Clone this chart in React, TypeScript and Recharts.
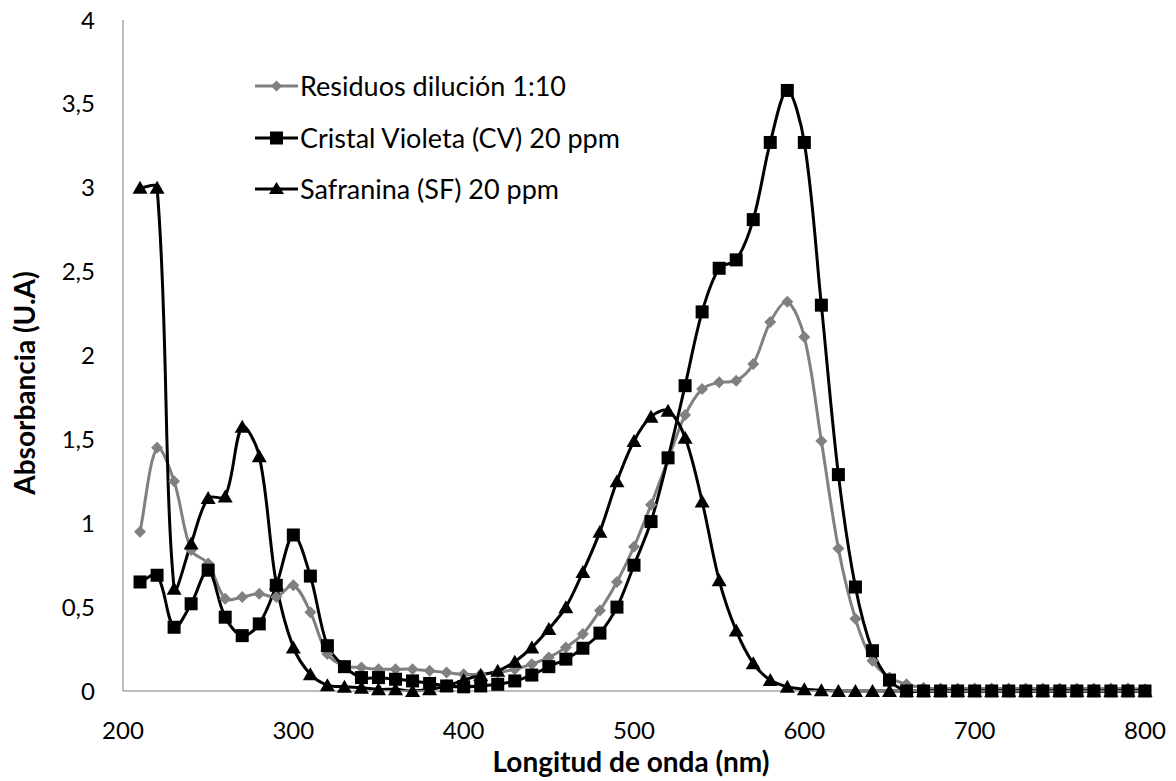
import React from 'react';
import { LineChart, Line, XAxis, YAxis, Label } from 'recharts';

const wavelengths = [
  210, 220, 230, 240, 250, 260, 270, 280, 290, 300,
  310, 320, 330, 340, 350, 360, 370, 380, 390, 400,
  410, 420, 430, 440, 450, 460, 470, 480, 490, 500,
  510, 520, 530, 540, 550, 560, 570, 580, 590, 600,
  610, 620, 630, 640, 650, 660, 670, 680, 690, 700,
  710, 720, 730, 740, 750, 760, 770, 780, 790, 800,
];

const residuos = [
  0.95, 1.45, 1.25, 0.84, 0.76, 0.55, 0.56, 0.58, 0.56, 0.63,
  0.47, 0.22, 0.15, 0.14, 0.13, 0.13, 0.13, 0.12, 0.11, 0.10,
  0.10, 0.11, 0.13, 0.16, 0.20, 0.26, 0.34, 0.48, 0.65, 0.86,
  1.11, 1.38, 1.645, 1.80, 1.84, 1.85, 1.95, 2.20, 2.32, 2.11,
  1.49, 0.85, 0.43, 0.18, 0.08, 0.04, 0.02, 0.015, 0.015, 0.015,
  0.015, 0.015, 0.015, 0.015, 0.015, 0.015, 0.015, 0.015, 0.015, 0.01,
];

const cristalVioleta = [
  0.65, 0.69, 0.38, 0.52, 0.72, 0.44, 0.33, 0.40, 0.63, 0.93,
  0.685, 0.27, 0.145, 0.08, 0.08, 0.07, 0.06, 0.045, 0.03, 0.025,
  0.03, 0.04, 0.06, 0.095, 0.145, 0.19, 0.255, 0.345, 0.50, 0.75,
  1.01, 1.39, 1.82, 2.26, 2.52, 2.57, 2.81, 3.27, 3.58, 3.27,
  2.30, 1.29, 0.62, 0.24, 0.065, 0.0, 0.0, 0.0, 0.0, 0.0,
  0.0, 0.0, 0.0, 0.0, 0.0, 0.0, 0.0, 0.0, 0.0, 0.0,
];

const safranina = [
  3.0, 3.0, 0.61, 0.88, 1.15, 1.16, 1.575, 1.40, 0.64, 0.26,
  0.10, 0.035, 0.025, 0.02, 0.01, 0.01, 0.0, 0.01, 0.03, 0.065,
  0.095, 0.12, 0.175, 0.26, 0.37, 0.50, 0.71, 0.95, 1.25, 1.49,
  1.635, 1.67, 1.51, 1.13, 0.66, 0.36, 0.165, 0.065, 0.025, 0.01,
  0.005, 0.0, 0.0, 0.0, 0.0, 0.0, 0.0, 0.0, 0.0, 0.0,
  0.0, 0.0, 0.0, 0.0, 0.0, 0.0, 0.0, 0.0, 0.0, 0.0,
];

const seriesNames = ['Residuos dilución 1:10', 'Cristal Violeta (CV) 20 ppm', 'Safranina (SF) 20 ppm'];
const xTicks = [200, 300, 400, 500, 600, 700, 800];
const yTicks = [0, 0.5, 1, 1.5, 2, 2.5, 3, 3.5, 4];
const xTitle = 'Longitud de onda (nm)';
const yTitle = 'Absorbancia (U.A)';

const data = wavelengths.map((nm, i) => ({
  nm,
  residuos: residuos[i],
  cv: cristalVioleta[i],
  sf: safranina[i],
}));

const GRAY = '#808080';
const FONT = 'Lato, "Open Sans", sans-serif';

// Excel-like smoothed line: Bezier with tangents weighted by adjacent segment lengths
function excelCurve(context: any) {
  let xs: number[] = [];
  let ys: number[] = [];
  return {
    areaStart() {},
    areaEnd() {},
    lineStart() {
      xs = [];
      ys = [];
    },
    point(x: number, y: number) {
      xs.push(+x);
      ys.push(+y);
    },
    lineEnd() {
      const n = xs.length;
      if (!n) return;
      context.moveTo(xs[0], ys[0]);
      if (n === 1) return;
      const inX: number[] = [], inY: number[] = [], outX: number[] = [], outY: number[] = [];
      for (let i = 0; i < n; i++) {
        const ip = Math.max(0, i - 1);
        const inx = Math.min(n - 1, i + 1);
        const tx = xs[inx] - xs[ip];
        const ty = ys[inx] - ys[ip];
        const dp = Math.hypot(xs[i] - xs[ip], ys[i] - ys[ip]);
        const dn = Math.hypot(xs[inx] - xs[i], ys[inx] - ys[i]);
        const sum = dp + dn || 1;
        inX[i] = xs[i] - (tx * dp) / sum / 3;
        inY[i] = ys[i] - (ty * dp) / sum / 3;
        outX[i] = xs[i] + (tx * dn) / sum / 3;
        outY[i] = ys[i] + (ty * dn) / sum / 3;
      }
      for (let i = 0; i < n - 1; i++) {
        context.bezierCurveTo(outX[i], outY[i], inX[i + 1], inY[i + 1], xs[i + 1], ys[i + 1]);
      }
    },
  };
}

const DiamondDot = (props: any) => {
  const { cx, cy, index } = props;
  if (cx == null || cy == null) return null;
  const s = 6;
  return <path key={`d${index}`} d={`M${cx},${cy - s}L${cx + s},${cy}L${cx},${cy + s}L${cx - s},${cy}Z`} fill={GRAY} />;
};

const SquareDot = (props: any) => {
  const { cx, cy, index } = props;
  if (cx == null || cy == null) return null;
  const s = 6.5;
  return <rect key={`s${index}`} x={cx - s} y={cy - s} width={2 * s} height={2 * s} fill="#000" />;
};

const TriangleDot = (props: any) => {
  const { cx, cy, index } = props;
  if (cx == null || cy == null) return null;
  return <path key={`t${index}`} d={`M${cx},${cy - 7}L${cx + 7.5},${cy + 6}L${cx - 7.5},${cy + 6}Z`} fill="#000" />;
};

const legendIcons = [
  (
    <svg width={45} height={20} style={{ display: 'block' }}>
      <line x1={1} y1={10} x2={44} y2={10} stroke={GRAY} strokeWidth={3} />
      <path d="M22.5,4.5L28,10L22.5,15.5L17,10Z" fill={GRAY} />
    </svg>
  ),
  (
    <svg width={45} height={20} style={{ display: 'block' }}>
      <line x1={1} y1={10} x2={44} y2={10} stroke="#000" strokeWidth={3} />
      <rect x={16} y={3.5} width={13} height={13} fill="#000" />
    </svg>
  ),
  (
    <svg width={45} height={20} style={{ display: 'block' }}>
      <line x1={1} y1={10} x2={44} y2={10} stroke="#000" strokeWidth={3} />
      <path d="M22.5,3L30,15L15,15Z" fill="#000" />
    </svg>
  ),
];

const LegendBox = () => (
  <div style={{ position: 'absolute', left: 254, top: 60.25, fontFamily: FONT }}>
    {seriesNames.map((name, i) => (
      <div key={name} style={{ display: 'flex', alignItems: 'center', height: 51.5 }}>
        {legendIcons[i]}
        <span style={{ fontSize: 27, lineHeight: '30px', color: '#000', marginLeft: 1, whiteSpace: 'nowrap' }}>{name}</span>
      </div>
    ))}
  </div>
);

const fmt = (v: number) => String(v).replace('.', ',');

export default function App() {
  return (
    <div style={{ position: 'absolute', left: 0, top: 0, width: 1176, height: 781, background: '#fff' }}>
      <LineChart width={1176} height={781} data={data} margin={{ top: 20, right: 31, bottom: 0, left: 0 }}>
        <XAxis
          dataKey="nm"
          type="number"
          domain={[200, 800]}
          ticks={xTicks}
          tickLine={false}
          tickSize={0}
          tickMargin={31}
          height={90}
          stroke="#a6a6a6"
          strokeWidth={1.5}
          tick={{ fill: '#000', fontSize: 24, fontFamily: FONT }}
        >
          <Label
            content={() => (
              <text x={631} y={772} textAnchor="middle" fontFamily={FONT} fontWeight="bold" fontSize={28} fill="#000">
                {xTitle}
              </text>
            )}
          />
        </XAxis>
        <YAxis
          type="number"
          domain={[0, 4]}
          ticks={yTicks}
          tickFormatter={fmt}
          tickLine={false}
          tickSize={0}
          tickMargin={28}
          width={123}
          stroke="#a6a6a6"
          strokeWidth={1.5}
          tick={{ fill: '#000', fontSize: 24, fontFamily: FONT }}
        >
          <Label
            content={() => (
              <text
                x={35}
                y={383}
                transform="rotate(-90 35 383)"
                textAnchor="middle"
                fontFamily={FONT}
                fontWeight="bold"
                fontSize={28}
                fill="#000"
              >
                {yTitle}
              </text>
            )}
          />
        </YAxis>
        <Line
          name={seriesNames[0]}
          dataKey="residuos"
          type={excelCurve as any}
          stroke={GRAY}
          strokeWidth={3}
          dot={DiamondDot}
          activeDot={false}
          isAnimationActive={false}
        />
        <Line
          name={seriesNames[1]}
          dataKey="cv"
          type={excelCurve as any}
          stroke="#000"
          strokeWidth={3}
          dot={SquareDot}
          activeDot={false}
          isAnimationActive={false}
        />
        <Line
          name={seriesNames[2]}
          dataKey="sf"
          type={excelCurve as any}
          stroke="#000"
          strokeWidth={3}
          dot={TriangleDot}
          activeDot={false}
          isAnimationActive={false}
        />
      </LineChart>
      <LegendBox />
    </div>
  );
}
